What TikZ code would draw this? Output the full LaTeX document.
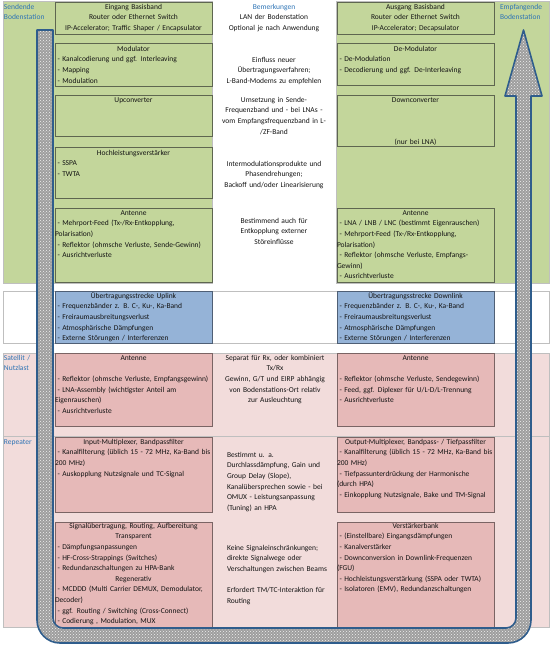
\documentclass[tikz,border=0pt]{standalone}
\usepackage{fontspec}
\setmainfont{Carlito}
\usetikzlibrary{patterns}
\definecolor{grn}{HTML}{C3D69B}
\definecolor{grnline}{HTML}{5E6650}
\definecolor{pnk}{HTML}{F2DCDB}
\definecolor{pnkbox}{HTML}{E6B9B8}
\definecolor{pnkline}{HTML}{7A6464}
\definecolor{blubox}{HTML}{95B3D7}
\definecolor{bluline}{HTML}{4F5F75}
\definecolor{lbl}{HTML}{2E74B5}
\definecolor{txt}{HTML}{141414}
\definecolor{arrfill}{HTML}{9E9E9E}
\definecolor{arrline}{HTML}{2F5D8C}
\definecolor{panelline}{HTML}{BFBFBF}
\newcommand{\ind}{\hspace*{2.5pt}}
\newcommand{\ctr}[1]{\makebox[\linewidth][c]{#1}}
\begin{document}
\begin{tikzpicture}[x=1pt,y=-1pt,
  every node/.style={font=\fontsize{7.5}{10.6}\selectfont, text=txt, inner sep=0pt, outer sep=0pt},
  panel/.style={draw=panelline, line width=0.6pt},
  boxg/.style={draw=grnline, fill=grn, line width=0.8pt, minimum width=157pt, anchor=north west},
  boxp/.style={draw=pnkline, fill=pnkbox, line width=0.8pt, minimum width=157pt, anchor=north west},
  boxb/.style={draw=bluline, fill=blubox, line width=0.8pt, minimum width=157pt, anchor=north west},
  body/.style={text width=157pt, align=left, anchor=base west},
  mid/.style={text width=130pt, align=center, anchor=base},
  midl/.style={text width=110pt, align=left, anchor=base west},
  lbltext/.style={text=lbl, align=left, text width=52pt, anchor=base west},
]
\useasboundingbox (0,0) rectangle (553,654);
% panels
\path[panel, fill=grn] (3,1) rectangle (212,283);
\path[panel, fill=grn] (336,1) rectangle (549,283);
\path[panel, fill=white] (3,291) rectangle (549,343);
\path[panel, fill=pnk] (3,353) rectangle (549,627);
\draw[panelline, line width=0.6pt] (3,436) -- (549,436);

% labels
\node[lbltext] (lsend) at (4,9.3) {Sendende\\Bodenstation};
\node[lbltext] (lempf) at (500,9.3) {Empfangende\\Bodenstation};
\node[lbltext] (lsat) at (4,360.3) {Satellit /\\Nutzlast};
\node[lbltext] (lrep) at (4,444.3) {Repeater};

% green left boxes
\node[boxg, minimum height=32pt] (eing) at (55,2) {};
\node[body] (eingT) at (55,9.3) {\ctr{Eingang Basisband}\\\ctr{Router oder Ethernet Switch}\\\ctr{IP-Accelerator; Traffic Shaper / Encapsulator}};
\node[boxg, minimum height=43pt] (modu) at (55,43) {};
\node[body] (moduT) at (55,51.3) {\ctr{Modulator}\\\ind- Kanalcodierung und ggf. Interleaving\\\ind- Mapping\\\ind- Modulation};
\node[boxg, minimum height=41pt] (upco) at (55,95) {};
\node[body] (upcoT) at (55,102.3) {\ctr{Upconverter}};
\node[boxg, minimum height=51pt] (hpa) at (55,147) {};
\node[body] (hpaT) at (55,155.3) {\ctr{Hochleistungsverstärker}\\\ind- SSPA\\\ind- TWTA};
\node[boxg, minimum height=74pt] (anttx) at (55,208) {};
\node[body] (anttxT) at (55,215.3) {\ctr{Antenne}\\\ind- Mehrport-Feed (Tx-/Rx-Entkopplung,\\Polarisation)\\\ind- Reflektor (ohmsche Verluste, Sende-Gewinn)\\\ind- Ausrichtverluste};

% green right boxes
\node[boxg, minimum height=32pt] (ausg) at (337,2) {};
\node[body] (ausgT) at (337,9.3) {\ctr{Ausgang Basisband}\\\ctr{Router oder Ethernet Switch}\\\ctr{IP-Accelerator; Decapsulator}};
\node[boxg, minimum height=42pt] (demo) at (337,43) {};
\node[body] (demoT) at (337,51.3) {\ctr{De-Modulator}\\\ind- De-Modulation\\\ind- Decodierung und ggf. De-Interleaving};
\node[boxg, minimum height=51pt] (doco) at (337,95) {};
\node[body] (docoT) at (337,102.3) {\ctr{Downconverter}\\[31.1pt]\ctr{(nur bei LNA)}};
\node[boxg, minimum height=74pt] (antrx) at (337,208) {};
\node[body] (antrxT) at (337,215.3) {\ctr{Antenne}\\\ind- LNA / LNB / LNC (bestimmt Eigenrauschen)\\\ind- Mehrport-Feed (Tx-/Rx-Entkopplung,\\Polarisation)\\\ind- Reflektor (ohmsche Verluste, Empfangs-\\Gewinn)\\\ind- Ausrichtverluste};

% links
\node[boxb, minimum height=52pt] (upl) at (55,291) {};
\node[body] (uplT) at (55,298.3) {\ctr{Übertragungsstrecke Uplink}\\\ind- Frequenzbänder z. B. C-, Ku-, Ka-Band\\\ind- Freiraumausbreitungsverlust\\\ind- Atmosphärische Dämpfungen\\\ind- Externe Störungen / Interferenzen};
\node[boxb, minimum height=52pt] (dnl) at (337,291) {};
\node[body] (dnlT) at (337,298.3) {\ctr{Übertragungsstrecke Downlink}\\\ind- Frequenzbänder z. B. C-, Ku-, Ka-Band\\\ind- Freiraumausbreitungsverlust\\\ind- Atmosphärische Dämpfungen\\\ind- Externe Störungen / Interferenzen};

% satellite
\node[boxp, minimum height=73pt] (santl) at (55,353) {};
\node[body] (santlT) at (55,360.3) {\ctr{Antenne}\\\mbox{}\\\ind- Reflektor (ohmsche Verluste, Empfangsgewinn)\\\ind- LNA-Assembly (wichtigster Anteil am\\Eigenrauschen)\\\ind- Ausrichtverluste};
\node[boxp, minimum height=73pt] (santr) at (337,353) {};
\node[body] (santrT) at (337,360.3) {\ctr{Antenne}\\\mbox{}\\\ind- Reflektor (ohmsche Verluste, Sendegewinn)\\\ind- Feed, ggf. Diplexer für U/L-D/L-Trennung\\\ind- Ausrichtverluste};

\node[boxp, minimum height=75pt] (imux) at (55,437) {};
\node[body] (imuxT) at (55,444.3) {\ctr{Input-Multiplexer, Bandpassfilter}\\\ind- Kanalfilterung (üblich 15 - 72 MHz, Ka-Band bis\\200 MHz)\\\ind- Auskopplung Nutzsignale und TC-Signal};
\node[boxp, minimum height=75pt] (omux) at (337,437) {};
\node[body] (omuxT) at (337,444.3) {\ctr{Output-Multiplexer, Bandpass- / Tiefpassfilter}\\\ind- Kanalfilterung (üblich 15 - 72 MHz, Ka-Band bis\\200 MHz)\\\ind- Tiefpassunterdrückung der Harmonische\\(durch HPA)\\\ind- Einkopplung Nutzsignale, Bake und TM-Signal};

\node[boxp, minimum height=106pt] (sig) at (55,522) {};
\node[body] (sigT) at (55,528.3) {\ctr{Signalübertragung, Routing, Aufbereitung}\\\ctr{Transparent}\\\ind- Dämpfungsanpassungen\\\ind- HF-Cross-Strappings (Switches)\\\ind- Redundanzschaltungen zu HPA-Bank\\\ctr{Regenerativ}\\\ind- MCDDD (Multi Carrier DEMUX, Demodulator,\\Decoder)\\\ind- ggf. Routing / Switching (Cross-Connect)\\\ind- Codierung , Modulation, MUX};
\node[boxp, minimum height=106pt] (vst) at (337,522) {};
\node[body] (vstT) at (337,528.3) {\ctr{Verstärkerbank}\\\ind- (Einstellbare) Eingangsdämpfungen\\\ind- Kanalverstärker\\\ind- Downconversion in Downlink-Frequenzen\\(FGU)\\\ind- Hochleistungsverstärkung (SSPA oder TWTA)\\\ind- Isolatoren (EMV), Redundanzschaltungen};

% remarks column
\node[mid] (m1) at (274,9.3) {\textcolor{lbl}{Bemerkungen}\\LAN der Bodenstation\\Optional je nach Anwendung};
\node[mid] (m2) at (274,62.3) {Einfluss neuer\\Übertragungsverfahren;\\L-Band-Modems zu empfehlen};
\node[mid] (m3) at (274,102.3) {Umsetzung in Sende-\\Frequenzband und - bei LNAs -\\vom Empfangsfrequenzband in L-\\/ZF-Band};
\node[mid] (m4) at (274,166.3) {Intermodulationsprodukte und\\Phasendrehungen;\\Backoff und/oder Linearisierung};
\node[mid] (m5) at (274,223.3) {Bestimmend auch für\\Entkopplung externer\\Störeinflüsse};
\node[mid] (m6) at (275,360.3) {Separat für Rx, oder kombiniert\\Tx/Rx\\Gewinn, G/T und EIRP abhängig\\von Bodenstations-Ort relativ\\zur Ausleuchtung};
\node[midl] (m7) at (227,457.3) {Bestimmt u. a.\\Durchlassdämpfung, Gain und\\Group Delay (Slope),\\Kanalübersprechen sowie - bei\\OMUX - Leistungsanpassung\\(Tuning) an HPA};
\node[midl] (m8) at (227,550.3) {Keine Signaleinschränkungen;\\direkte Signalwege oder\\Verschaltungen zwischen Beams\\\mbox{}\\Erfordert TM/TC-Interaktion für\\Routing};

% big U-shaped arrow
\draw[draw=arrline, line width=1.6pt, line join=round, preaction={fill=arrfill}, pattern=crosshatch dots, pattern color=white!88!gray]
  (37,30) -- (37,620) .. controls (37,632.7) and (47.3,643) .. (60,643)
  -- (508,643) .. controls (520.7,643) and (531,632.7) .. (531,620)
  -- (531,96) -- (542,96) -- (523.5,30) -- (505,96) -- (516,96)
  -- (516,618) .. controls (516,623.5) and (511.5,628) .. (506,628)
  -- (63,628) .. controls (57.5,628) and (53,623.5) .. (53,618)
  -- (53,30) -- cycle;
\end{tikzpicture}
\end{document}
